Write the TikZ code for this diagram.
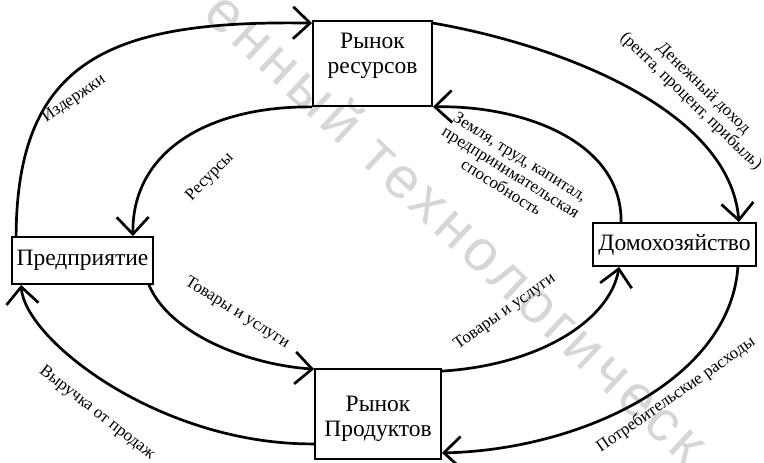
\documentclass[tikz,border=0pt]{standalone}
\usepackage{fontspec}
\setmainfont{Liberation Serif}
\newfontfamily\wmfont[LetterSpace=9]{Liberation Sans}
\usetikzlibrary{arrows.meta,calc}
\tikzset{
  box/.style={draw, line width=1.8pt, inner sep=0pt},
  boxtext/.style={align=center, inner sep=0pt, font=\fontsize{23.5}{25}\selectfont},
  flow/.style={line width=2.7pt, -{Straight Barb[length=17pt,width=32pt,line width=2.7pt]}},
  lbl/.style={font=\fontsize{17}{18}\selectfont, align=center, inner sep=0pt},
  wm/.style={font=\wmfont\fontsize{58}{58}\selectfont, text=black!16, inner sep=0pt}
}
\begin{document}
\begin{tikzpicture}[x=1pt,y=-1pt]
\useasboundingbox (0,0) rectangle (764,463);
\clip (0,0) rectangle (764,463);
\fill[white] (0,0) rectangle (764,463);
% watermark
\node[wm, rotate=-43] (wmark) at (458,226) {енный технологическ};
% boxes
\node[box, minimum width=119pt, minimum height=85pt,
      label={[boxtext, name=rrtext, yshift=8pt]center:{Рынок\\ресурсов}}] (rr) at (372.5,63.5) {};
\node[box, boxtext, minimum width=141pt, minimum height=47pt] (pr) at (82.5,260.5) {Предприятие};
\node[box, boxtext, minimum width=163pt, minimum height=43pt] (dom) at (674.5,244.5) {Домохозяйство};
\node[box, minimum width=126pt, minimum height=90pt,
      label={[boxtext, name=rptext, yshift=-5pt]center:{Рынок\\Продуктов}}] (rp) at (378,414) {};
% outer top-left: Издержки
\draw[flow] ([xshift=5pt]pr.north west) .. controls (17,60) and (110,20) .. ([yshift=-3pt]rr.north west);
% inner top-left: Ресурсы
\draw[flow] (rr.south west) .. controls (210,106) and (132,150) .. ([xshift=-21pt]pr.north east);
% outer top-right: Денежный доход
\draw[flow] ([yshift=-3pt]rr.north east) .. controls (560,45) and (730,110) .. ([xshift=-18pt]dom.north east);
% inner top-right: Земля, труд...
\draw[flow] ([xshift=29pt]dom.north west) .. controls (622,140) and (520,105) .. (rr.south east);
% inner bottom-left: Товары и услуги
\draw[flow] ([xshift=-5pt]pr.south east) .. controls (170,335) and (250,365) .. ([yshift=-1pt]rp.north west);
% inner bottom-right: Товары и услуги
\draw[flow] ([yshift=-3pt]rp.north east) .. controls (540,365) and (610,320) .. ([xshift=27pt]dom.south west);
% outer bottom-right: Потребительские расходы
\draw[flow] ([xshift=-19pt]dom.south east) .. controls (730,380) and (580,450) .. ([yshift=7pt]rp.south east);
% outer bottom-left: Выручка от продаж
\draw[flow] ([yshift=16pt]rp.south west) .. controls (160,445) and (25,340) .. ([xshift=10pt]pr.south west);
% labels
\node[lbl, rotate=34] (l1) at (74,99) {Издержки};
\node[lbl, rotate=46] (l2) at (210,177) {Ресурсы};
\node[lbl, rotate=-44] (l3) at (697,95) {Денежный доход\\(рента, процент, прибыль)};
\node[lbl, rotate=-32] (l4) at (511,172) {Земля, труд, капитал,\\предпринимательская\\способность};
\node[lbl, rotate=-32] (l5) at (237,313) {Товары и услуги};
\node[lbl, rotate=35] (l6) at (505,312) {Товары и услуги};
\node[lbl, rotate=35] (l7) at (676,395) {Потребительские расходы};
\node[lbl, rotate=-38] (l8) at (97,413) {Выручка от продаж};
\end{tikzpicture}
\end{document}
